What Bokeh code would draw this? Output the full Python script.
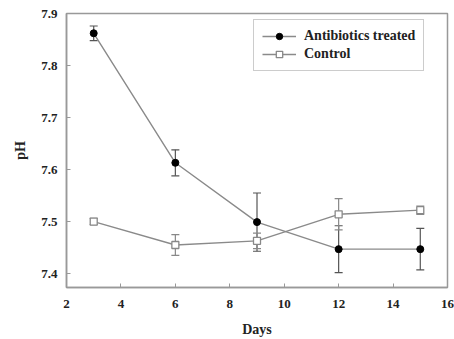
from bokeh.plotting import figure
from bokeh.models import Range1d, ColumnDataSource, Whisker, TeeHead, Legend, LegendItem, FixedTicker
from bokeh.embed import file_html
from bokeh.resources import INLINE

days = [3, 6, 9, 12, 15]
abx_ph = [7.862, 7.613, 7.499, 7.447, 7.447]
abx_err = [0.014, 0.025, 0.056, 0.045, 0.040]
ctrl_ph = [7.500, 7.455, 7.463, 7.514, 7.522]
ctrl_err = [0.006, 0.020, 0.015, 0.030, 0.008]
x_ticks = [2, 4, 6, 8, 10, 12, 14, 16]
y_ticks = [7.4, 7.5, 7.6, 7.7, 7.8, 7.9]

FONT = "Liberation Serif"
TXT = "#222222"
LINE = "#8a8a8a"

p = figure(width=454, height=339, output_backend="svg", toolbar_location=None,
           x_range=Range1d(2, 16), y_range=Range1d(7.3733, 7.9),
           min_border_left=66, min_border_right=7, min_border_top=13, min_border_bottom=52)
p.grid.visible = False
p.outline_line_color = "#999999"
p.outline_line_width = 1.5
p.background_fill_color = "white"
p.border_fill_color = "white"

for ax in (p.xaxis[0], p.yaxis[0]):
    ax.axis_line_color = "#999999"
    ax.axis_line_width = 1.5
    ax.major_tick_in = 4
    ax.major_tick_out = 0
    ax.minor_tick_in = 0
    ax.minor_tick_out = 0
    ax.major_tick_line_color = "#999999"
    ax.major_label_text_font = FONT
    ax.major_label_text_font_style = "bold"
    ax.major_label_text_font_size = "13px"
    ax.major_label_text_color = TXT
    ax.axis_label_text_font = FONT
    ax.axis_label_text_font_style = "bold"
    ax.axis_label_text_font_size = "14px"
    ax.axis_label_text_color = TXT

p.xaxis.ticker = FixedTicker(ticks=x_ticks)
p.yaxis.ticker = FixedTicker(ticks=y_ticks)
p.xaxis.axis_label = "Days"
p.yaxis.axis_label = "pH"
p.xaxis.major_label_standoff = 12
p.yaxis.major_label_standoff = 9
p.xaxis.axis_label_standoff = 11
p.yaxis.axis_label_standoff = 10

abx_src = ColumnDataSource(dict(x=days, y=abx_ph,
                                up=[v + e for v, e in zip(abx_ph, abx_err)],
                                lo=[v - e for v, e in zip(abx_ph, abx_err)]))
ctrl_src = ColumnDataSource(dict(x=days, y=ctrl_ph,
                                 up=[v + e for v, e in zip(ctrl_ph, ctrl_err)],
                                 lo=[v - e for v, e in zip(ctrl_ph, ctrl_err)]))

l1 = p.line("x", "y", source=abx_src, line_color=LINE, line_width=1.4)
l2 = p.line("x", "y", source=ctrl_src, line_color=LINE, line_width=1.4)

for src, col in ((abx_src, "#555555"), (ctrl_src, "#888888")):
    w = Whisker(source=src, base="x", upper="up", lower="lo", line_color=col, line_width=1.2,
                upper_head=TeeHead(size=8, line_color=col, line_width=1.2),
                lower_head=TeeHead(size=8, line_color=col, line_width=1.2))
    p.add_layout(w)

m2 = p.scatter("x", "y", source=ctrl_src, marker="square", size=7, fill_color="white",
               line_color="#888888", line_width=1.3)
m1 = p.scatter("x", "y", source=abx_src, marker="circle", size=7, fill_color="black",
               line_color="black")

legend = Legend(items=[LegendItem(label="Antibiotics treated", renderers=[l1, m1]),
                       LegendItem(label="Control", renderers=[l2, m2])],
                location=(187, 216), orientation="vertical")
legend.label_text_font = FONT
legend.label_text_font_style = "bold"
legend.label_text_font_size = "14px"
legend.label_text_color = TXT
legend.glyph_width = 34
legend.glyph_height = 16
legend.label_height = 16
legend.label_standoff = 8
legend.spacing = 2
legend.padding = 8
legend.margin = 0
legend.border_line_color = "#999999"
legend.border_line_width = 1.2
legend.background_fill_alpha = 1.0
p.add_layout(legend, "center")

open("out.html", "w").write(file_html(p, INLINE))
